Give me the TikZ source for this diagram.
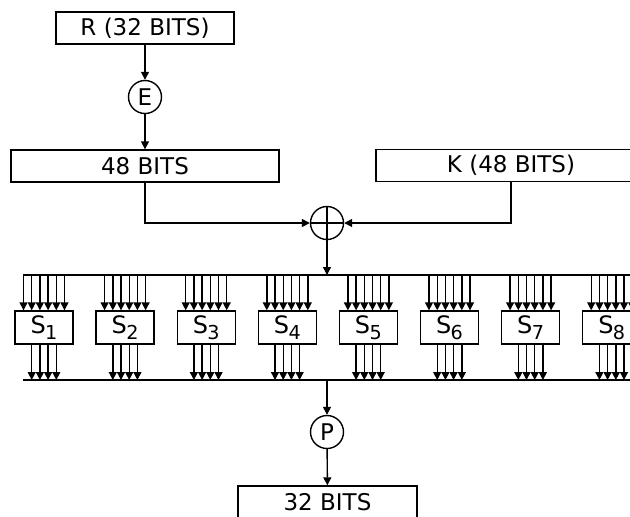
\documentclass[tikz,border=0pt]{standalone}
\usepackage{fontspec}
\setmainfont{DejaVu Sans}
\usetikzlibrary{arrows.meta}
\newcommand{\sub}[1]{\raisebox{-0.45ex}{\fontsize{9.6}{10}\selectfont #1}}
\begin{document}
\begin{tikzpicture}[x=0.5pt, y=-0.5pt, font=\fontsize{11.5}{13}\selectfont]
        \tikzset{
            box/.style={draw, line width=0.7pt, minimum height=16pt, inner sep=0pt},
            sbox/.style={box, minimum width=29pt, minimum height=16.5pt, font=\fontsize{12}{13}\selectfont},
            op/.style={draw, circle, line width=0.7pt, minimum size=16.5pt, inner sep=0pt},
            arrow/.style={-{Triangle[length=4pt, width=4pt]}, line width=0.7pt},
            wire/.style={line width=0.7pt}
        }
        \useasboundingbox (0,0) rectangle (630,516);

        % expansion of the right half
        \node[box, minimum width=89pt] (r) at (145,28) {R (32 BITS)};
        \node[op] (e) at (145,97) {E};
        \node[box, minimum width=134pt] (exp) at (145,166) {48 BITS};
        \node[box, minimum width=135pt] (key) at (511,165.5) {K (48 BITS)};
        \node[op] (xor) at (327,223) {};
        \draw[wire] (xor.north) -- (xor.south) (xor.west) -- (xor.east);

        \draw[arrow] (r) -- (e);
        \draw[arrow] (e) -- (exp);
        \draw[arrow] (exp.south) |- (xor.west);
        \draw[arrow] (key.south) |- (xor.east);

        % buses
        \coordinate (topl) at (23,275);
        \coordinate (topr) at (640,275);
        \coordinate (botl) at (23,380);
        \coordinate (botr) at (640,380);
        \draw[wire] (topl) -- (topr);
        \draw[wire] (botl) -- (botr);
        \draw[arrow] (xor.south) -- (xor.south |- topl);

        % S-boxes
        \foreach \i in {1,...,8} {
            \node[sbox] (s\i) at ({44+81.1*(\i-1)},327.5) {S\kern-0.3pt\sub{\i}};
            \foreach \d in {-2.5,-1.5,...,2.5}
                \draw[arrow] ([xshift=\d*4.1pt]s\i.north |- topl) -- ([xshift=\d*4.1pt]s\i.north);
            \foreach \d in {-1.5,-0.5,...,1.5}
                \draw[arrow] ([xshift=\d*4.1pt]s\i.south) -- ([xshift=\d*4.1pt]s\i.south |- botl);
        }

        % permutation
        \coordinate (pin) at (327,380);
        \node[op] (p) at (327,432) {P};
        \node[box, minimum width=89.5pt] (out) at (327.5,502) {32 BITS};
        \draw[arrow] (pin) -- (p);
        \draw[arrow] (p) -- (out);
\end{tikzpicture}
\end{document}
